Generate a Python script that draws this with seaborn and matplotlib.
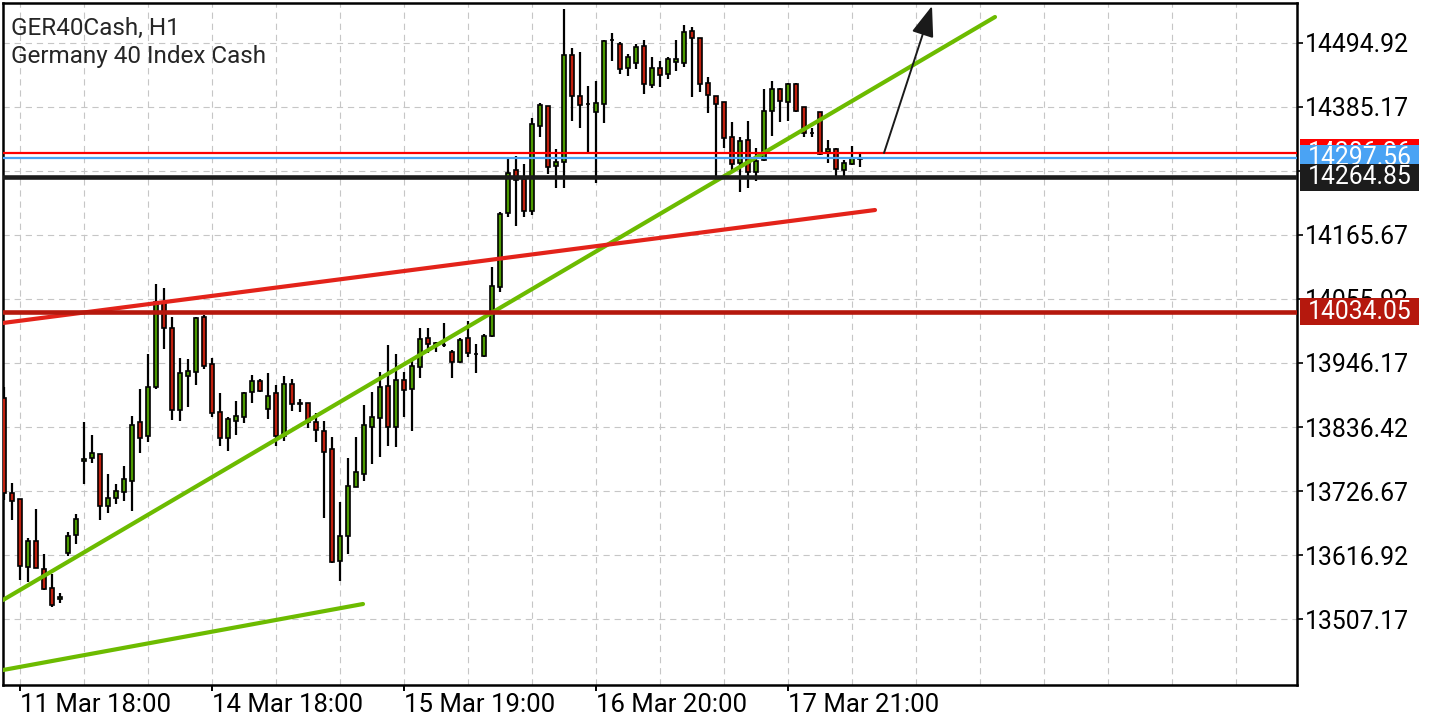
import matplotlib
matplotlib.use("Agg")
import matplotlib.pyplot as plt
import matplotlib.transforms as mtransforms
from matplotlib.patches import Rectangle, FancyArrowPatch, ArrowStyle
import numpy as np
import pandas as pd
import seaborn as sns

# --- hourly candles, GER40Cash H1 ---
opens = [13886.2, 13723.2, 13713.0, 13596.3, 13640.9, 13592.9, 13560.3, 13541.5, 13620.3, 13651.2,
         13778.1, 13783.3, 13790.1, 13700.9, 13714.7, 13725.0, 13743.8, 13845.0, 13821.0, 13905.0,
         14050.8, 14006.2, 13865.6, 13923.9, 13930.7, 14025.1, 13944.5, 13862.1, 13817.6, 13846.7,
         13853.6, 13896.4, 13915.3, 13867.3, 13894.7, 13821.0, 13910.2, 13877.6, 13877.6, 13845.0,
         13829.6, 13798.7, 13606.6, 13649.5, 13733.5, 13755.8, 13836.4, 13851.9, 13906.7, 13836.4,
         13917.0, 13901.6, 13939.3, 13989.0, 13980.5, 13977.0, 13965.0, 13947.9, 13989.0, 13961.6,
         13958.2, 13992.5, 14076.5, 14203.4, 14277.1, 14261.7, 14206.8, 14352.6, 14386.9, 14284.0,
         14290.9, 14474.3, 14404.0, 14390.3, 14376.6, 14390.3, 14500.1, 14493.2, 14452.0, 14460.6,
         14489.8, 14422.9, 14452.0, 14441.8, 14462.3, 14460.6, 14515.5, 14503.5, 14426.3, 14404.0,
         14393.8, 14333.7, 14289.1, 14328.6, 14273.7, 14294.3, 14378.3, 14416.0, 14393.8, 14424.6,
         14385.2, 14340.6, 14376.6, 14308.0, 14313.1, 14277.1, 14287.4, 14296.0]
highs = [13905.0, 13740.4, 13713.0, 13646.1, 13695.8, 13618.6, 13584.3, 13551.8, 13656.4, 13687.2,
         13845.0, 13822.7, 13790.1, 13755.8, 13738.7, 13769.5, 13855.3, 13901.6, 13961.6, 14081.6,
         14074.8, 14025.1, 13954.7, 13953.0, 14025.1, 14028.5, 13954.7, 13894.7, 13853.6, 13881.0,
         13896.4, 13925.6, 13918.7, 13929.0, 13908.4, 13923.9, 13918.7, 13884.4, 13877.6, 13860.4,
         13846.7, 13819.3, 13707.8, 13783.3, 13819.3, 13874.1, 13896.4, 13930.7, 13977.0, 13961.6,
         13930.7, 13954.7, 14006.2, 14006.2, 13982.2, 14014.8, 13968.5, 13989.0, 14018.2, 13978.8,
         13995.9, 14110.8, 14205.1, 14299.4, 14301.1, 14287.4, 14366.3, 14392.0, 14386.9, 14313.1,
         14553.2, 14486.3, 14479.5, 14421.2, 14429.8, 14500.1, 14512.1, 14496.6, 14476.1, 14493.2,
         14500.1, 14470.9, 14464.1, 14470.9, 14500.1, 14525.8, 14522.4, 14503.5, 14436.6, 14404.0,
         14393.8, 14359.5, 14333.7, 14361.2, 14314.9, 14416.0, 14429.8, 14417.8, 14426.3, 14426.3,
         14385.2, 14349.2, 14376.6, 14328.6, 14314.9, 14294.3, 14318.3, 14306.3]
lows = [13711.2, 13676.9, 13574.1, 13570.6, 13594.6, 13556.9, 13527.7, 13534.6, 13615.2, 13635.8,
        13738.7, 13774.7, 13676.9, 13688.9, 13704.4, 13709.5, 13692.4, 13791.8, 13810.7, 13901.6,
        13970.2, 13848.4, 13846.7, 13870.7, 13908.4, 13935.9, 13853.6, 13803.8, 13795.3, 13822.7,
        13843.3, 13877.6, 13896.4, 13850.1, 13803.8, 13812.4, 13863.9, 13862.1, 13834.7, 13810.7,
        13680.4, 13603.2, 13572.3, 13618.6, 13733.5, 13743.8, 13773.0, 13785.0, 13803.8, 13802.1,
        13853.6, 13829.6, 13920.5, 13963.3, 13965.0, 13973.6, 13920.5, 13946.2, 13956.5, 13929.0,
        13956.5, 13990.8, 14067.9, 14196.5, 14181.1, 14196.5, 14200.0, 14333.7, 14270.3, 14246.3,
        14246.3, 14361.2, 14349.2, 14308.0, 14254.8, 14357.7, 14464.1, 14441.8, 14438.3, 14450.3,
        14407.5, 14417.8, 14419.5, 14433.2, 14446.9, 14453.8, 14402.3, 14410.9, 14374.9, 14265.1,
        14314.9, 14277.1, 14239.4, 14246.3, 14258.3, 14292.6, 14335.4, 14359.5, 14361.2, 14376.6,
        14333.7, 14333.7, 14302.9, 14289.1, 14265.1, 14265.1, 14285.7, 14282.3]
closes = [13723.2, 13709.5, 13598.1, 13640.9, 13594.6, 13558.6, 13531.2, 13544.9, 13649.5, 13678.7,
          13781.5, 13791.8, 13700.9, 13714.7, 13726.7, 13747.3, 13839.9, 13817.6, 13905.0, 14050.8,
          14006.2, 13865.6, 13929.0, 13932.5, 14023.3, 13941.0, 13860.4, 13817.6, 13850.1, 13855.3,
          13894.7, 13915.3, 13898.2, 13889.6, 13821.0, 13910.2, 13875.9, 13875.9, 13845.0, 13831.3,
          13793.5, 13604.9, 13649.5, 13735.2, 13759.3, 13839.9, 13853.6, 13905.0, 13836.4, 13917.0,
          13899.9, 13941.0, 13987.3, 13978.8, 13977.0, 13977.0, 13947.9, 13985.6, 13963.3, 13961.6,
          13992.5, 14078.2, 14201.7, 14272.0, 14260.0, 14206.8, 14356.0, 14388.6, 14282.3, 14290.9,
          14474.3, 14404.0, 14388.6, 14390.3, 14392.0, 14498.3, 14500.1, 14450.3, 14470.9, 14488.1,
          14424.6, 14452.0, 14440.1, 14467.5, 14467.5, 14513.8, 14503.5, 14424.6, 14405.8, 14390.3,
          14332.0, 14287.4, 14326.9, 14273.7, 14292.6, 14378.3, 14416.0, 14395.5, 14424.6, 14378.3,
          14340.6, 14340.6, 14304.6, 14313.1, 14278.9, 14289.1, 14297.7, 14297.56]

tick_bars = [2, 26, 50, 74, 98]
tick_labels = ["11 Mar 18:00", "14 Mar 18:00", "15 Mar 19:00", "16 Mar 20:00", "17 Mar 21:00"]
price_ticks = [13507.17, 13616.92, 13726.67, 13836.42, 13946.17, 14055.92,
               14165.67, 14275.42, 14385.17, 14494.92]

# drawn objects: trend lines as (bar index, price) end points
green_x = [-0.125, 123.875]
green_y = [13539.8, 14539.5]
green_low_x = [-0.125, 44.875]
green_low_y = [13419.7, 13532.9]
red_x = [-0.125, 108.875]
red_y = [14014.8, 14208.5]
arrow_start = (110.0, 14306.3)
arrow_end = (116.0, 14558.4)

ask_price = 14306.36
bid_price = 14297.56
support_price = 14264.85
level_price = 14034.05

df = pd.DataFrame({"open": opens, "high": highs, "low": lows, "close": closes})
df["bar"] = np.arange(len(df))

sns.set_style("white")
plt.rcParams["font.family"] = ["Roboto", "DejaVu Sans"]
plt.rcParams["lines.scale_dashes"] = False

W, H = 1440, 720
fig = plt.figure(figsize=(14.4, 7.2), dpi=100)
ax = fig.add_axes([3 / W, 35 / H, 1294 / W, 682 / H])
ax.set_xlim(-0.125, 161.625)
ax.set_ylim(13394.0, 14563.5)

# dashed grid
grid_kw = dict(color="#c6c6c6", lw=0.8, ls=(0, (4.5, 3.5)), zorder=0)
for b in range(2, 162, 8):
    ax.axvline(b, **grid_kw)
for p in price_ticks:
    ax.axhline(p, **grid_kw)

# candles
up = df["close"] >= df["open"]
body_lo = np.minimum(df["open"], df["close"])
body_h = (df["close"] - df["open"]).abs()
ax.vlines(df["bar"], df["low"], df["high"], color="black", lw=1.6, zorder=2)
ax.bar(df["bar"], body_h, bottom=body_lo, width=0.62,
       color=np.where(up, "#4c9a00", "#c0200e"), edgecolor="black", linewidth=1.2, zorder=3)

# trend lines
sns.lineplot(x=green_x, y=green_y, ax=ax, color="#6cbb00", lw=3.0, sort=False, estimator=None, zorder=4)
sns.lineplot(x=green_low_x, y=green_low_y, ax=ax, color="#6cbb00", lw=3.0, sort=False, estimator=None, zorder=4)
sns.lineplot(x=red_x, y=red_y, ax=ax, color="#e3231a", lw=3.0, sort=False, estimator=None, zorder=4)

# horizontal levels
ax.axhline(level_price, color="#b5180d", lw=3.3, zorder=4)
ax.axhline(support_price, color="#1c1c1c", lw=3.3, zorder=4)
ax.axhline(ask_price, color="#ff0000", lw=1.6, zorder=4)
ax.axhline(bid_price, color="#4aa3f4", lw=1.6, zorder=4)

arrow = FancyArrowPatch(arrow_start, arrow_end,
                        arrowstyle=ArrowStyle("-|>", head_length=19, head_width=7),
                        mutation_scale=1, color="#1a1a1a", lw=1.4,
                        shrinkA=0, shrinkB=0, zorder=5, clip_on=False)
ax.add_patch(arrow)

# axes styling
for s in ax.spines.values():
    s.set_visible(True)
    s.set_color("black")
    s.set_linewidth(1.8)

ax.set_xticks(tick_bars, tick_labels)
for lbl in ax.get_xticklabels():
    lbl.set_ha("left")
ax.tick_params(axis="x", length=4, width=1.4, pad=2, labelsize=18.5, colors="black", bottom=True)

ax.yaxis.tick_right()
ax.set_yticks(price_ticks, [f"{p:.2f}" for p in price_ticks])
ax.tick_params(axis="y", length=4, width=1.2, pad=1.5, labelsize=17.8, colors="black", right=True)

# price boxes on the right scale
trans = mtransforms.blended_transform_factory(fig.transFigure, ax.transData)
span = ax.get_ylim()[1] - ax.get_ylim()[0]
box_h = 27 * span / 682
boxes = [(ask_price, "#ff0000"), (bid_price, "#4aa3f4"),
         (support_price, "#1c1c1c"), (level_price, "#b5180d")]
for i, (p, c) in enumerate(boxes):
    ax.add_patch(Rectangle((1300 / W, p - box_h / 2), 119 / W, box_h, transform=trans,
                           facecolor=c, edgecolor="none", clip_on=False, zorder=10 + 2 * i))
    ax.text(1308 / W, p, f"{p:.2f}", transform=trans, color="white", fontsize=17.8,
            va="center", ha="left", clip_on=False, zorder=11 + 2 * i)

fig.text(11 / W, 1 - 28 / H, "GER40Cash, H1", fontsize=17.5, va="center", ha="left")
fig.text(11 / W, 1 - 56 / H, "Germany 40 Index Cash", fontsize=17.5, va="center", ha="left")

fig.savefig("out.png", dpi=100)
plt.close()
